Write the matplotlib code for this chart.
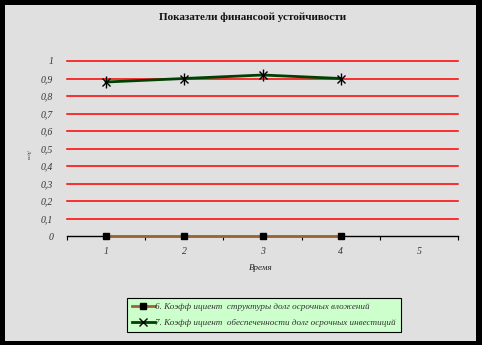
import matplotlib.pyplot as plt
from matplotlib.patches import Rectangle
import numpy as np

title = "Показатели финансоой устойчивости"
xLabel = "Время"
yLabel = "Доля"
periods = [1, 2, 3, 4, 5]
labelS6 = "6. Коэфф ициент  структуры долг осрочных вложений"
labelS7 = "7. Коэфф ициент  обеспеченности долг осрочных инвестиций"
valuesS6 = [0, 0, 0, 0]
valuesS7 = [0.88, 0.90, 0.92, 0.90]
yTicks = [0, 0.1, 0.2, 0.3, 0.4, 0.5, 0.6, 0.7, 0.8, 0.9, 1.0]

plt.rcParams['font.family'] = ['Liberation Serif', 'DejaVu Serif']

W, H = 482, 345
fig = plt.figure(figsize=(W / 100, H / 100), dpi=100, facecolor='black')

# gray chart area inside the black frame
fig.patches.append(Rectangle((5 / W, 4 / H), 471 / W, 336 / H,
                             transform=fig.transFigure, facecolor='#e0e0e0',
                             edgecolor='none', zorder=-10))

ax = fig.add_axes([67 / W, (H - 236) / H, 391 / W, 175 / H])
ax.patch.set_alpha(0)

for v in yTicks[1:]:
    ax.axhline(v, color='#ff0000', lw=1.1, zorder=1, clip_on=False)

x6 = periods[:len(valuesS6)]
x7 = periods[:len(valuesS7)]
ax.plot(x6, valuesS6, color='#996633', lw=2, zorder=3, clip_on=False)
ax.plot(x6, valuesS6, ls='none', marker='s', ms=5, color='black', zorder=4, clip_on=False)
ax.plot(x7, valuesS7, color='#004000', lw=2, zorder=3)
ax.plot(x7, valuesS7, ls='none', marker='x', ms=6, mew=1, color='black', zorder=4)
ax.plot(x7, valuesS7, ls='none', marker='|', ms=8, mew=1, color='black', zorder=4)

ax.set_xlim(0.5, 5.5)
ax.set_ylim(0, 1)
for s in ['top', 'right', 'left']:
    ax.spines[s].set_visible(False)
ax.spines['bottom'].set_color('black')
ax.spines['bottom'].set_linewidth(1)

ax.set_xticks(np.arange(0.5, 6, 1))
ax.set_xticklabels([])
ax.set_xticks(periods, minor=True)
ax.set_xticklabels([str(p) for p in periods], minor=True, fontsize=7,
                   style='italic', color='#333333')
ax.tick_params(axis='x', which='major', direction='out', length=3, width=0.8)
ax.tick_params(axis='x', which='minor', length=0, pad=8)

ax.set_yticks(yTicks)
ax.set_yticklabels(["0" if v == 0 else ("%g" % v).replace('.', ',') for v in yTicks],
                   fontsize=7, style='italic', color='#333333')
ax.tick_params(axis='y', length=0, pad=10)

fig.text(261 / W, 1 - 268 / H, xLabel, ha='center', va='center',
         fontsize=6.5, style='italic', color='#222222')
fig.text(28 / W, 1 - 155 / H, yLabel, ha='center', va='center',
         fontsize=3.5, rotation=270, color='#444444')
fig.text(253 / W, 1 - 17 / H, title, ha='center', va='center',
         fontsize=8, fontweight='bold', color='#111111')

h6 = ax.plot([], [], color='#996633', lw=2, marker='s', ms=5,
             mfc='black', mec='black')[0]
h7 = ax.plot([], [], color='#004000', lw=2, marker='x', ms=6,
             mfc='black', mec='black')[0]
leg = fig.legend([h6, h7], [labelS6, labelS7], loc='upper left',
                 bbox_to_anchor=(127 / W, 1 - 298 / H),
                 prop={'size': 6.6, 'style': 'italic'},
                 facecolor='#ccffcc', edgecolor='black', fancybox=False,
                 framealpha=1, borderpad=0.5, labelspacing=0.85,
                 handlelength=2.5, handletextpad=0.1, borderaxespad=0)
leg.get_frame().set_linewidth(0.8)
for t in leg.get_texts():
    t.set_color('#333333')

fig.savefig("out.png", dpi=100, facecolor='black')
